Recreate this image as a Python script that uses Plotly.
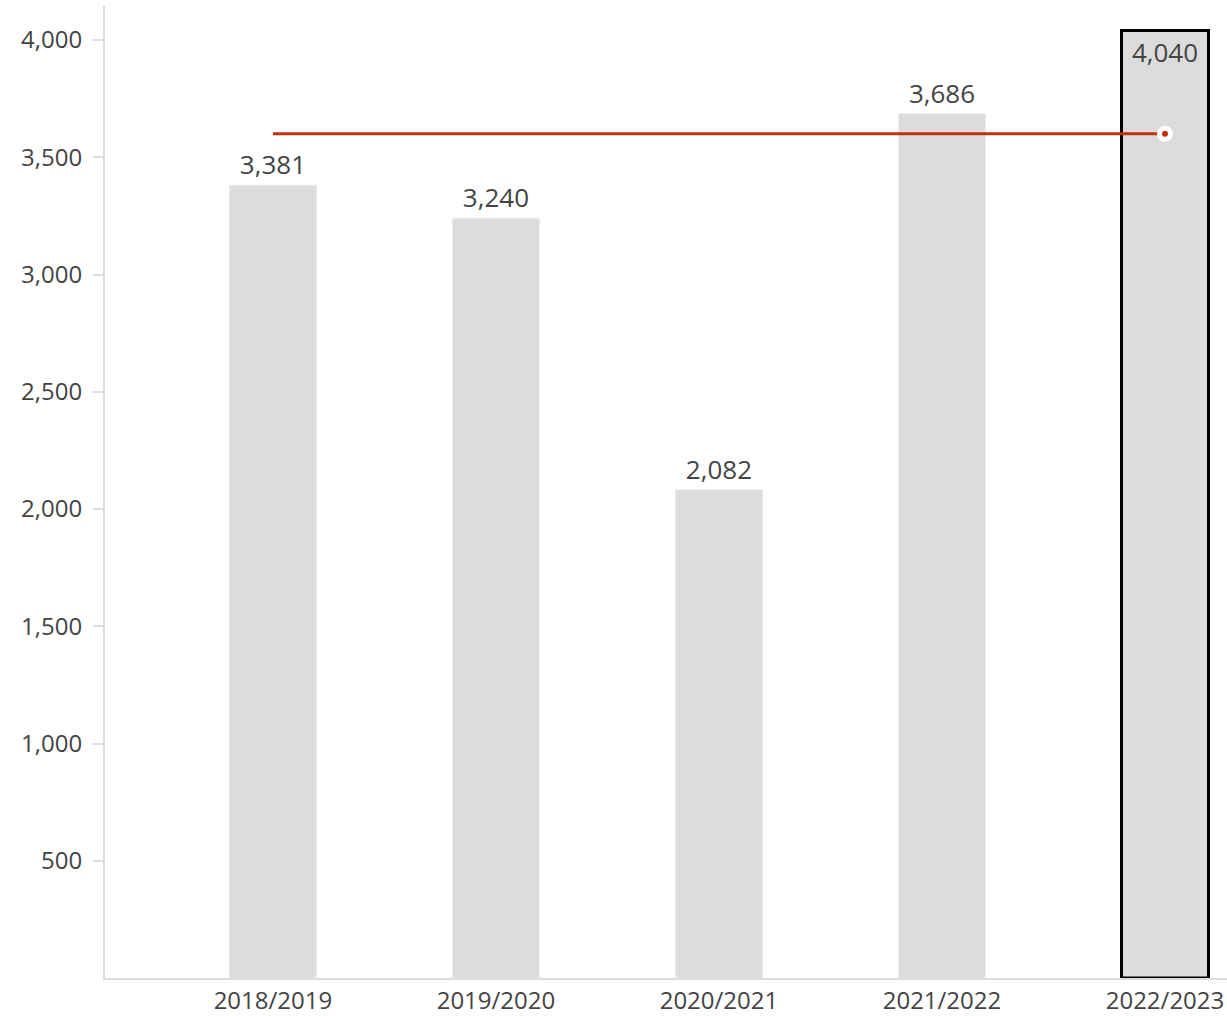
import plotly.graph_objects as go

categories = ["2018/2019", "2019/2020", "2020/2021", "2021/2022", "2022/2023"]
values = [3381, 3240, 2082, 3686, 4040]
target = [3600, 3600, 3600, 3600, 3600]
tick_vals = [500, 1000, 1500, 2000, 2500, 3000, 3500, 4000]
tick_text = ["500", "1,000", "1,500", "2,000", "2,500", "3,000", "3,500", "4,000"]

FONT = "Open Sans"
TXT = "#444444"

n = len(categories)
line_colors = ["#ececec"] * (n - 1) + ["#000000"]
line_widths = [1] * (n - 1) + [3]
positions = ["outside"] * (n - 1) + ["inside"]

fig = go.Figure()
fig.add_trace(go.Bar(
    x=categories, y=values,
    width=0.39,
    marker=dict(color="#dcdcdc", line=dict(color=line_colors, width=line_widths)),
    text=[f"{v:,}" for v in values],
    textposition=positions,
    insidetextanchor="end",
    constraintext="none",
    cliponaxis=False,
    textfont=dict(family=FONT, size=26, color=TXT),
    insidetextfont=dict(family=FONT, size=26, color=TXT),
    outsidetextfont=dict(family=FONT, size=26, color=TXT),
    showlegend=False,
    hoverinfo="skip",
))
fig.add_trace(go.Scatter(
    x=categories, y=target, mode="lines",
    line=dict(color="#c0300f", width=3),
    showlegend=False, hoverinfo="skip",
))
fig.add_trace(go.Scatter(
    x=categories[-1:], y=target[-1:], mode="markers",
    marker=dict(color="#c0300f", size=11, line=dict(color="white", width=5)),
    showlegend=False, hoverinfo="skip", cliponaxis=False,
))

fig.update_layout(
    width=1227, height=1016,
    margin=dict(l=105, r=0, t=6, b=33),
    plot_bgcolor="white", paper_bgcolor="white",
    font=dict(family=FONT, size=24, color=TXT),
    bargap=0.6,
    xaxis=dict(
        type="category",
        range=[-0.753, 4.278],
        showline=True, linecolor="#dddddd", linewidth=2,
        showgrid=False, ticks="", zeroline=False,
        tickfont=dict(family=FONT, size=24, color=TXT),
    ),
    yaxis=dict(
        range=[0, 4145],
        tickvals=tick_vals, ticktext=tick_text,
        showline=True, linecolor="#dddddd", linewidth=2,
        showgrid=False, zeroline=False,
        ticks="outside", ticklen=10, tickcolor="#dddddd", tickwidth=2,
        ticklabelstandoff=6,
        tickfont=dict(family=FONT, size=24, color=TXT),
    ),
)

fig.write_html(
    "out.html",
    config={"displayModeBar": False},
    post_script="document.body.style.margin='0';document.body.style.overflow='hidden';",
)
